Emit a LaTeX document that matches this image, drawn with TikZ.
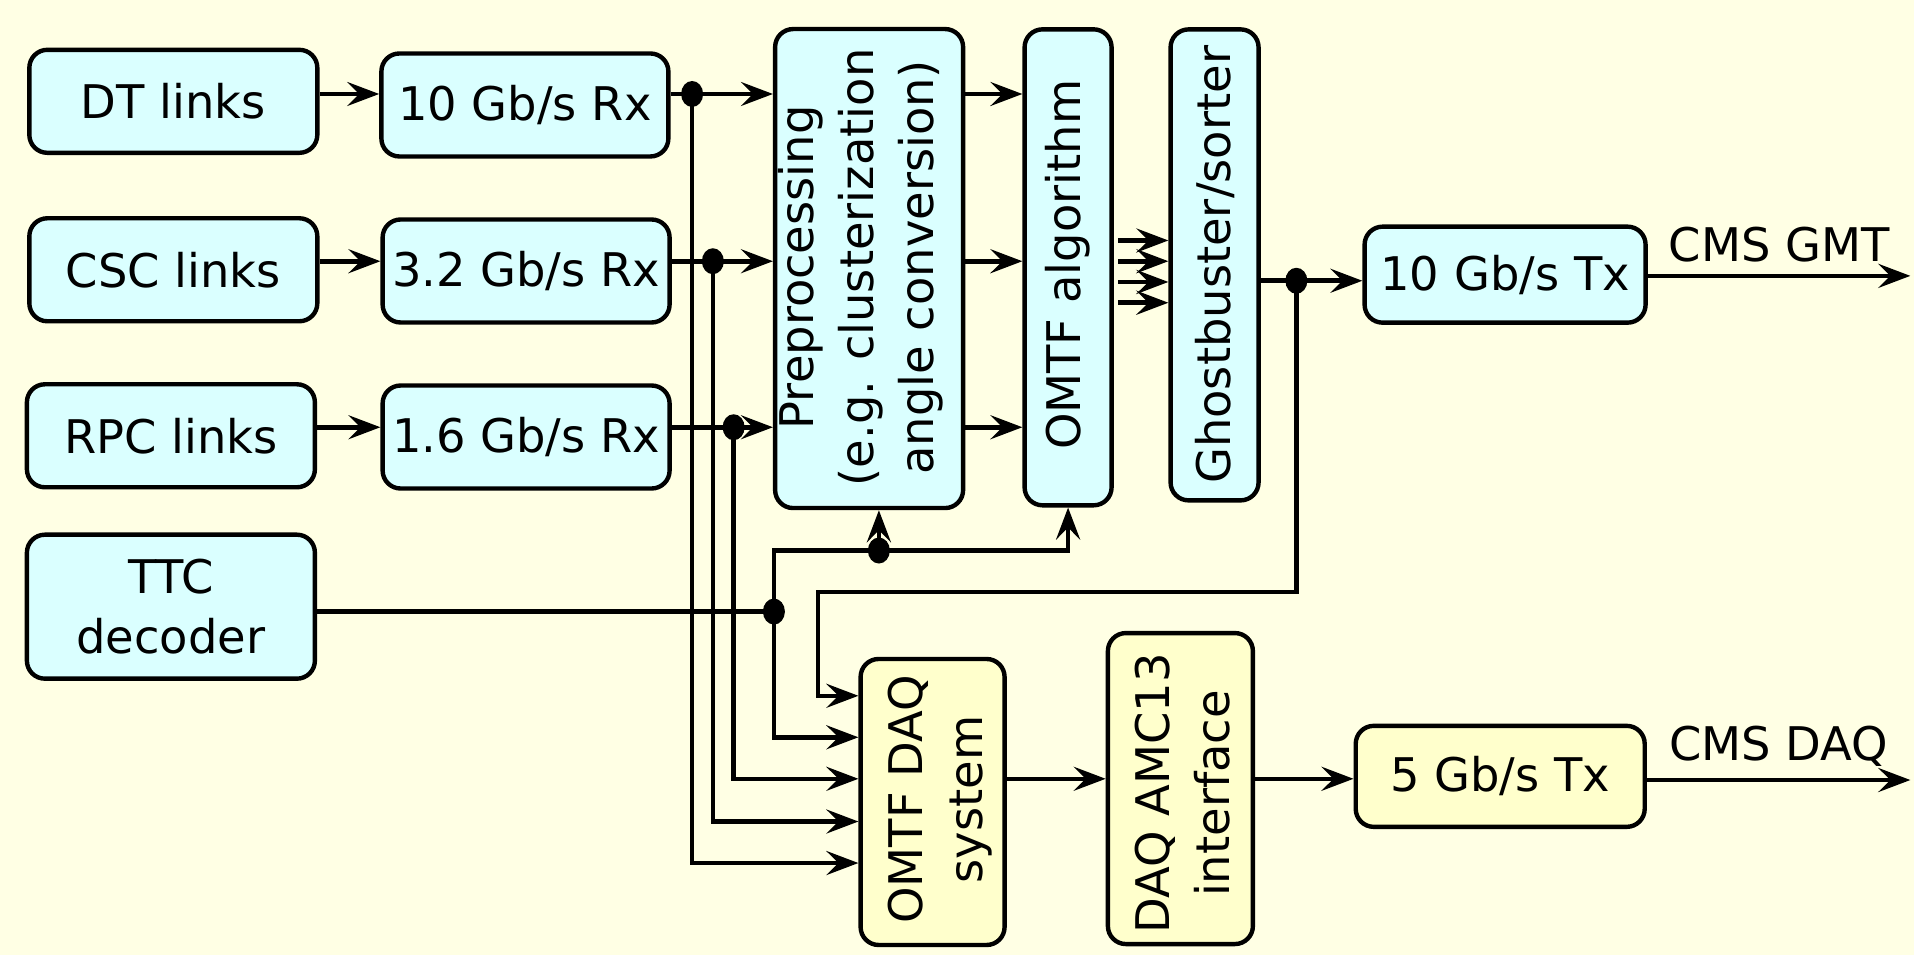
\documentclass[tikz,border=0pt]{standalone}
\usepackage{fontspec}
\setmainfont{DejaVu Sans}
\usetikzlibrary{arrows.meta}
\definecolor{paper}{RGB}{255,255,228}
\definecolor{boxblue}{RGB}{218,255,255}
\definecolor{boxyellow}{RGB}{255,255,204}
\begin{document}
\begin{tikzpicture}[x = .012207cm, y = -.012207cm,
    font = \fontsize{13.2}{17}\selectfont,
    box/.style = {draw, line width = 1.25pt, rounded corners = .18cm, inner sep = 1pt, align = center},
    bluebox/.style = {box, fill = boxblue},
    yellowbox/.style = {box, fill = boxyellow},
    vtext/.style = {rotate = 90, align = center, inner sep = 0pt},
    arr/.style = {line width = 1.3pt, -{Stealth[length = 3.2mm, width = 2.4mm, inset = 1.2mm]}},
    wire/.style = {line width = 1.3pt}]
      \fill [paper] (0,0) rectangle (1568,782);
      % input links and receivers
      \node [bluebox, minimum width = 2.88cm, minimum height = 1.03cm] (dt) at (142,83) {DT links};
      \node [bluebox, minimum width = 2.88cm, minimum height = 1.03cm] (csc) at (142,221) {CSC links};
      \node [bluebox, minimum width = 2.88cm, minimum height = 1.03cm] (rpc) at (140,357) {RPC links};
      \node [bluebox, minimum width = 2.88cm, minimum height = 1.44cm] (ttc) at (140,497) {TTC\\decoder};
      \node [bluebox, minimum width = 2.87cm, minimum height = 1.03cm] (rx10) at (430,86) {10 Gb/s Rx};
      \node [bluebox, minimum width = 2.87cm, minimum height = 1.03cm] (rx32) at (431,222) {3.2 Gb/s Rx};
      \node [bluebox, minimum width = 2.87cm, minimum height = 1.03cm] (rx16) at (431,358) {1.6 Gb/s Rx};
      % processing chain
      \node [bluebox, minimum width = 1.88cm, minimum height = 4.79cm] (prep) at (712,220) {};
      \node [vtext] (preptext) at (705,219) {Preprocessing\\(e.g. clusterization\\angle conversion)};
      \node [bluebox, minimum width = .87cm, minimum height = 4.76cm] (alg) at (875,219) {};
      \node [vtext] (algtext) at (875,217) {OMTF algorithm};
      \node [bluebox, minimum width = .88cm, minimum height = 4.71cm] (gb) at (995,217) {};
      \node [vtext] (gbtext) at (995,217) {Ghostbuster/sorter};
      \node [bluebox, minimum width = 2.81cm, minimum height = .96cm] (tx10) at (1233,225) {10 Gb/s Tx};
      % readout
      \node [yellowbox, minimum width = 1.44cm, minimum height = 2.86cm] (daq) at (764,657) {};
      \node [vtext] (daqtext) at (770,655) {OMTF DAQ\\system};
      \node [yellowbox, minimum width = 1.45cm, minimum height = 3.11cm] (amc) at (967,646) {};
      \node [vtext] (amctext) at (969,650) {DAQ AMC13\\interface};
      \node [yellowbox, minimum width = 2.89cm, minimum height = 1.01cm] (tx5) at (1229,636) {5 Gb/s Tx};
      % rows and junctions
      \coordinate (r1) at (0,77);
      \coordinate (r2) at (0,214);
      \coordinate (r3) at (0,350);
      \coordinate (j1) at (567,77);
      \coordinate (j2) at (584,214);
      \coordinate (j3) at (601,350);
      \coordinate (jt) at (634,501);
      \coordinate (jc) at (720,451);
      \coordinate (jg) at (1062,230);
      \coordinate (bend) at (670,485);
      \coordinate (d1) at (0,570);
      \coordinate (d2) at (0,604);
      \coordinate (d3) at (0,638);
      \coordinate (d4) at (0,673);
      \coordinate (d5) at (0,707);
      \coordinate (gmt) at (1565,226);
      \coordinate (cmsdaq) at (1565,639);
      \draw [arr] (dt.east |- r1) -- (rx10.west |- r1);
      \draw [arr] (csc.east |- r2) -- (rx32.west |- r2);
      \draw [arr] (rpc.east |- r3) -- (rx16.west |- r3);
      \draw [arr] (rx10.east |- r1) -- (prep.west |- r1);
      \draw [arr] (rx32.east |- r2) -- (prep.west |- r2);
      \draw [arr] (rx16.east |- r3) -- (prep.west |- r3);
      \draw [arr] (prep.east |- r1) -- (alg.west |- r1);
      \draw [arr] (prep.east |- r2) -- (alg.west |- r2);
      \draw [arr] (prep.east |- r3) -- (alg.west |- r3);
      \foreach \y in {197,214,231,248}
        \draw [arr] ([xshift = .04cm]alg.east |- 0,\y) -- (gb.west |- 0,\y);
      \draw [arr] (gb.east |- jg) -- (tx10.west |- jg);
      \draw [arr] (tx10.east |- gmt) -- (gmt) node [midway, above] (gmtlabel) {CMS GMT};
      % clock and control
      \draw [wire] (ttc.east |- jt) -- (jt);
      \draw [arr] (jt) |- (jc) -| (alg.south);
      \draw [arr] (jc) -- (prep.south -| jc);
      \draw [arr] (jt) |- (daq.west |- d2);
      % DAQ inputs
      \draw [arr] (jg) |- (bend) |- (daq.west |- d1);
      \draw [arr] (j3) |- (daq.west |- d3);
      \draw [arr] (j2) |- (daq.west |- d4);
      \draw [arr] (j1) |- (daq.west |- d5);
      \draw [arr] (daq.east |- d3) -- (amc.west |- d3);
      \draw [arr] (amc.east |- d3) -- (tx5.west |- d3);
      \draw [arr] (tx5.east |- cmsdaq) -- (cmsdaq) node [midway, above] (daqlabel) {CMS DAQ};
      \foreach \p in {j1,j2,j3,jt,jc,jg}
        \fill (\p) ellipse [x radius = .11cm, y radius = .13cm];
    \end{tikzpicture}
\end{document}
